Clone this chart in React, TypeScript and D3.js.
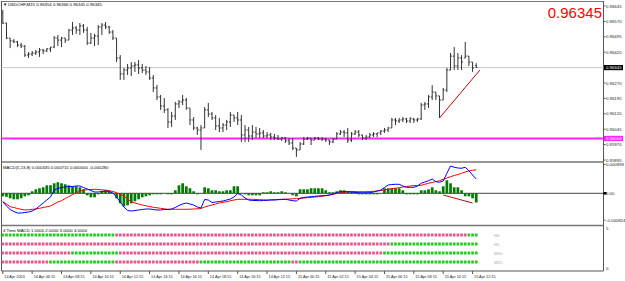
import React from "react";
import * as d3 from "d3";

// ---------- main chart data (price points, 1e-5) ----------
const opens = [96611,96562,96489,96475,96470,96455,96450,96406,96411,96416,96421,96431,96426,96436,96445,96489,96479,96489,96479,96528,96538,96528,96548,96528,96465,96489,96499,96543,96552,96543,96518,96489,96392,96314,96333,96343,96353,96358,96343,96333,96324,96294,96246,96202,96158,96139,96080,96109,96168,96178,96187,96148,96090,96051,96041,96051,96139,96119,96100,96061,96051,96065,96080,96114,96100,96090,96017,96041,96012,96031,96022,96027,96012,96017,96007,96002,95997,96002,95988,95978,95953,95944,95973,95997,96002,95992,96002,95997,95997,95992,95983,95997,96022,96031,96027,95992,96022,96031,96017,96002,96007,96017,96022,96027,96036,96041,96051,96090,96085,96090,96095,96085,96095,96090,96095,96163,96168,96202,96226,96207,96187,96236,96333,96401,96353,96392,96392,96401,96372,96354];
const highs = [96626,96562,96489,96484,96475,96465,96455,96421,96426,96431,96440,96436,96440,96445,96499,96504,96494,96489,96533,96567,96548,96562,96557,96543,96514,96509,96552,96562,96567,96548,96528,96489,96406,96343,96363,96372,96372,96382,96363,96353,96348,96309,96260,96212,96197,96148,96129,96178,96187,96212,96197,96148,96104,96056,96065,96153,96173,96129,96114,96100,96075,96090,96129,96114,96129,96114,96065,96056,96065,96056,96051,96041,96031,96027,96022,96017,96007,96007,96002,96002,95953,95983,96007,96007,96002,96007,96007,96007,96002,95992,96002,96031,96041,96041,96051,96031,96041,96041,96017,96017,96027,96031,96027,96041,96051,96056,96100,96100,96100,96104,96100,96104,96100,96100,96173,96178,96212,96260,96226,96207,96246,96343,96416,96445,96416,96406,96470,96401,96372,96366];
const lows = [96557,96484,96440,96465,96445,96440,96397,96392,96401,96406,96397,96411,96421,96421,96440,96450,96445,96465,96479,96504,96509,96504,96514,96455,96460,96450,96455,96504,96533,96509,96479,96372,96285,96285,96309,96304,96324,96314,96319,96309,96285,96226,96187,96139,96124,96051,96056,96090,96148,96163,96139,96065,96041,96017,95944,96051,96104,96090,96041,96031,96031,96041,96056,96080,96065,95983,95983,95983,95992,96002,96002,96002,96002,95992,95992,95992,95988,95978,95968,95944,95910,95944,95968,95992,95968,95992,95992,95988,95983,95968,95978,95997,96017,96007,95978,95983,96017,96007,95992,95992,96002,96007,96007,96017,96027,96031,96051,96065,96075,96080,96075,96075,96075,96080,96090,96139,96148,96187,96187,96100,96187,96226,96333,96333,96333,96333,96392,96353,96324,96345];
const closes = [96562,96489,96475,96470,96455,96450,96406,96411,96416,96421,96431,96426,96436,96445,96489,96479,96489,96479,96528,96538,96528,96548,96528,96465,96489,96499,96543,96552,96543,96518,96489,96392,96314,96333,96343,96353,96358,96343,96333,96324,96294,96246,96202,96158,96139,96080,96109,96168,96178,96187,96148,96090,96051,96041,96051,96139,96119,96100,96061,96051,96065,96080,96114,96100,96090,96017,96041,96012,96031,96022,96027,96012,96017,96007,96002,95997,96002,95988,95978,95953,95944,95973,95997,96002,95992,96002,95997,95997,95992,95983,95997,96022,96031,96027,95992,96022,96031,96017,96002,96007,96017,96022,96027,96036,96041,96051,96090,96085,96090,96095,96085,96095,96090,96095,96163,96168,96202,96226,96207,96187,96236,96333,96401,96353,96392,96372,96401,96372,96343,96345];

const priceTicks = [96645, 96570, 96495, 96420, 96270, 96195, 96120, 96045, 95970, 95895];
const currentPrice = 96345;
const levelPrice = 96000;
const trendBars = [119, 130];
const trendPrices = [96100, 96333];

// ---------- MACD (values in 1e-6) ----------
const macdHist = [-92,-107,-153,-183,-183,-153,-92,-61,61,122,153,183,244,244,305,336,305,275,244,214,214,183,122,-61,-122,-122,-31,61,92,61,5,-153,-305,-397,-366,-305,-244,-183,-122,-92,-61,-31,-31,-31,0,-31,-31,92,244,305,214,153,61,-31,5,183,153,92,92,61,61,92,92,214,214,5,-31,-61,-61,-61,-61,31,31,61,31,31,61,31,5,-61,-92,122,122,122,153,153,153,153,92,31,31,61,92,92,61,61,61,-31,-31,-31,-31,-31,-31,5,153,153,153,153,153,92,-31,-31,-31,-31,92,92,122,183,92,61,214,397,305,183,183,92,-92,-92,-153,-280];
const macdMain = [-256,-387,-494,-555,-601,-601,-586,-570,-540,-479,-387,-296,-204,-113,101,146,177,192,207,207,223,223,177,131,85,40,40,55,70,55,9,-113,-265,-418,-525,-540,-525,-509,-494,-479,-479,-494,-509,-509,-494,-494,-479,-433,-372,-326,-296,-326,-357,-418,-448,-189,-204,-281,-265,-250,-235,-204,-174,-113,-6,-52,-143,-204,-220,-220,-226,-220,-214,-204,-204,-195,-189,-183,-204,-226,-235,-153,-128,-113,-104,-92,-82,-73,-67,-52,-21,24,49,49,49,40,31,18,18,18,18,40,70,101,177,253,268,275,275,223,183,183,183,223,305,345,384,436,354,336,375,610,833,793,772,763,793,689,558,435];
const macdSignal = [-256,-326,-409,-433,-464,-488,-509,-503,-488,-479,-458,-433,-412,-387,-326,-265,-226,-159,-104,-37,18,61,101,110,116,122,116,107,95,79,55,18,-37,-82,-174,-256,-296,-326,-357,-381,-403,-427,-442,-458,-473,-488,-488,-488,-488,-488,-488,-485,-479,-473,-464,-418,-387,-357,-326,-296,-275,-256,-229,-204,-183,-183,-183,-183,-183,-189,-195,-198,-204,-198,-195,-189,-183,-180,-174,-168,-159,-153,-143,-134,-122,-113,-104,-88,-73,-52,-30,-6,15,34,49,49,49,49,49,49,55,61,70,85,101,122,140,156,171,192,207,223,232,238,244,275,305,329,357,384,427,467,506,543,573,610,650,680,701,715];
const macdTrendBars = [120, 128];
const macdTrendValues = [-52, -296];
const macdAxisLabels = ["0.000893", "0.00", "-0.000824"];
const macdAxisValues = [880, 0, -820];

// ---------- Time MACD rows: [state, count] runs (1 = green, 0 = pink) ----------
const tfNames = ["H4", "H1", "M30", "M15"];
const tfLevels = [4, 3, 2, 1];
const tfRuns = [
  [[1, 31], [0, 96], [1, 3]],
  [[0, 106], [1, 24]],
  [[0, 19], [1, 13], [0, 72], [1, 26]],
  [[0, 13], [1, 18], [0, 23], [1, 25], [0, 2], [1, 49]],
];

// ---------- time axis ----------
const timeLabels = ["14 Apr 2020","14 Apr 06:15","14 Apr 08:15","14 Apr 10:15","14 Apr 12:15","14 Apr 14:15","14 Apr 16:15","14 Apr 18:15","14 Apr 20:15","14 Apr 22:15","15 Apr 00:15","15 Apr 02:15","15 Apr 04:15","15 Apr 06:15","15 Apr 08:15","15 Apr 10:15","15 Apr 12:15"];
const timeLabelBars = [0,8,16,24,32,40,48,56,64,72,80,88,96,104,112,120,128];

const FONT = "'Liberation Sans', Arial, sans-serif";

export default function App() {
  const N = closes.length;
  const x = d3.scaleLinear().domain([0, N - 1]).range([2.8, 2.8 + 3.67 * (N - 1)]);
  const yP = d3.scaleLinear().domain([95895, 96645]).range([160, 6]);
  const yM = d3.scaleLinear().domain([-1000, 1000]).range([226.09, 160.51]);
  const yT = d3.scaleLinear().domain([0, 5]).range([271, 226]);
  const lineM = d3.line<number>().x((_, i) => x(i)).y((d) => yM(d));

  const left = 1.5, right = 603.5;
  const fmtP = (p: number) => (p / 1e5).toFixed(5);

  const tfCells: { i: number; row: number; g: number }[] = [];
  tfRuns.forEach((runs, row) => {
    let i = 0;
    runs.forEach(([g, c]) => {
      for (let k = 0; k < c; k++) tfCells.push({ i: i++, row, g });
    });
  });

  return (
    <svg width={625} height={281} style={{ position: "fixed", left: 0, top: 0, background: "#fff" }} fontFamily={FONT}>
      <rect x={0} y={0} width={625} height={281} fill="#fff" />
      {/* frames */}
      <line x1={left} x2={right} y1={1.5} y2={1.5} stroke="#777" strokeWidth={1} />
      <line x1={left} x2={left} y1={1} y2={271} stroke="#555" strokeWidth={1} />
      <line x1={right} x2={right} y1={1} y2={271} stroke="#555" strokeWidth={1} />
      <line x1={left} x2={right} y1={162} y2={162} stroke="#777" strokeWidth={1.6} />
      <line x1={left} x2={right} y1={225.5} y2={225.5} stroke="#777" strokeWidth={1.6} />
      <line x1={left} x2={right} y1={271} y2={271} stroke="#555" strokeWidth={1} />

      {/* current price line */}
      <line x1={left} x2={right} y1={yP(currentPrice)} y2={yP(currentPrice)} stroke="#c8c8c8" strokeWidth={1} />
      {/* magenta level */}
      <line x1={left} x2={right} y1={yP(levelPrice)} y2={yP(levelPrice)} stroke="#ff22ff" strokeWidth={2} />

      {/* OHLC bars */}
      {closes.map((c, i) => (
        <g key={i} stroke="#333" strokeWidth={1}>
          <line x1={x(i)} x2={x(i)} y1={yP(highs[i])} y2={yP(lows[i])} />
          <line x1={x(i) - 1.4} x2={x(i)} y1={yP(opens[i])} y2={yP(opens[i])} />
          <line x1={x(i)} x2={x(i) + 1.4} y1={yP(c)} y2={yP(c)} />
        </g>
      ))}
      {/* trend line */}
      <line x1={x(trendBars[0])} x2={x(trendBars[1])} y1={yP(trendPrices[0])} y2={yP(trendPrices[1])} stroke="#c00000" strokeWidth={1} />

      {/* header */}
      <text x={3} y={6} fontSize={4.3} fill="#000">▼</text>
      <text x={8} y={6} fontSize={4.3} fill="#000">
        {`USDCHF,M15  ${fmtP(opens[N - 1])} ${fmtP(highs[N - 1])} ${fmtP(lows[N - 1])} ${fmtP(closes[N - 1])}`}
      </text>
      <text x={602} y={17.5} fontSize={15} fill="#ff0000" textAnchor="end">{fmtP(closes[N - 1])}</text>

      {/* price axis */}
      {priceTicks.map((p) => (
        <g key={p}>
          <line x1={right} x2={right + 2} y1={yP(p)} y2={yP(p)} stroke="#555" />
          <text x={606} y={yP(p) + 1.5} fontSize={4.3} fill="#222">{fmtP(p)}</text>
        </g>
      ))}
      <rect x={604} y={yP(currentPrice) - 2.6} width={19} height={5.2} fill="#000" />
      <text x={606} y={yP(currentPrice) + 1.5} fontSize={4.3} fill="#fff">{fmtP(currentPrice)}</text>
      <rect x={604} y={yP(levelPrice) - 2.6} width={19} height={5.2} fill="#ff22ff" />
      <text x={606} y={yP(levelPrice) + 1.5} fontSize={4.3} fill="#fff">{fmtP(levelPrice)}</text>

      {/* MACD */}
      <line x1={left} x2={right} y1={yM(0)} y2={yM(0)} stroke="#444" strokeWidth={1} />
      {macdHist.map((v, i) => (
        <rect key={i} x={x(i) - 1.35} width={2.7} y={Math.min(yM(0), yM(v))} height={Math.abs(yM(v) - yM(0))} fill="#007a00" />
      ))}
      <path d={lineM(macdSignal) || ""} fill="none" stroke="#ff0000" strokeWidth={1} />
      <path d={lineM(macdMain) || ""} fill="none" stroke="#0000ff" strokeWidth={1} />
      <line x1={x(macdTrendBars[0])} x2={x(macdTrendBars[1])} y1={yM(macdTrendValues[0])} y2={yM(macdTrendValues[1])} stroke="#b01010" strokeWidth={1} />
      <text x={3} y={168.5} fontSize={4.3} fill="#000">
        {`MACD(5,13,8) ${(macdMain[N - 1] / 1e6).toFixed(6)} ${(macdSignal[N - 1] / 1e6).toFixed(6)} 0.000000 ${(macdHist[N - 1] / 1e6).toFixed(6)}`}
      </text>
      {macdAxisValues.map((v, k) => (
        <g key={k}>
          <line x1={right} x2={right + 2} y1={yM(v)} y2={yM(v)} stroke="#555" />
          <text x={606} y={yM(v) + 1.5} fontSize={4.3} fill="#222">{macdAxisLabels[k]}</text>
        </g>
      ))}
      <rect x={603.5} y={yM(0) - 1.3} width={3} height={2.6} fill="#000" />

      {/* Time MACD */}
      <text x={3} y={231.5} fontSize={4.3} fill="#000">4 Time MACD 1.0000 2.0000 3.0000 4.0000</text>
      {tfCells.map((c, k) => (
        <rect key={k} x={x(c.i) - 1.35} width={2.7} y={yT(tfLevels[c.row]) - 1.5} height={3} fill={c.g ? "#22cc22" : "#e6588c"} />
      ))}
      {tfNames.map((n, r) => (
        <text key={n} x={494} y={yT(tfLevels[r]) + 1.5} fontSize={4.3} fill="#aaa">{n}</text>
      ))}
      {[5, 0].map((v) => (
        <text key={v} x={606} y={yT(v) + (v === 5 ? 3.5 : -1)} fontSize={4.3} fill="#222">{v}</text>
      ))}

      {/* time axis */}
      {timeLabelBars.map((b, k) => (
        <g key={b}>
          <line x1={x(b)} x2={x(b)} y1={271} y2={274} stroke="#555" />
          <text x={x(b) + 1.5} y={277.5} fontSize={3.8} fill="#222">{timeLabels[k]}</text>
        </g>
      ))}
    </svg>
  );
}
